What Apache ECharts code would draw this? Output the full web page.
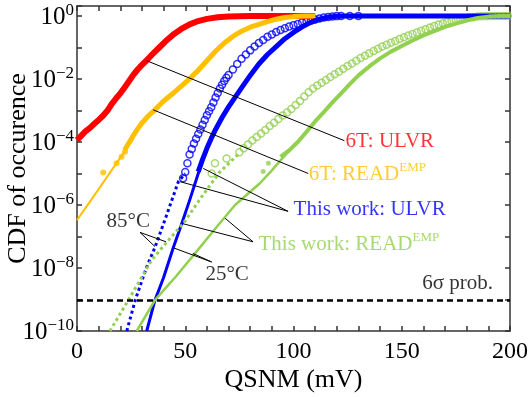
<!DOCTYPE html>
<html><head><meta charset="utf-8">
<script src="https://cdn.jsdelivr.net/npm/echarts@6/dist/echarts.min.js"></script>
<style>html,body{margin:0;padding:0;background:#fff}#c{width:530px;height:397px}</style>
</head><body><div id="c"></div>
<script>
// ---- data: [QSNM (mV), CDF] ----
const ulvr6T = [[0,1.15e-4],[2,1.6e-4],[4,2.2e-4],[6,2.8e-4],[8,3.8e-4],[10,5.0e-4],[12,6.8e-4],[14,9.8e-4],[16,1.6e-3],[18,2.4e-3],[20,3.5e-3],[22,5.4e-3],[24,8.5e-3],[26,1.35e-2],[28,2.0e-2],[30,2.8e-2],[32,3.8e-2],[35,6.3e-2],[38,0.10],[41,0.16],[45,0.275],[48,0.38],[52,0.54],[56,0.69],[60,0.81],[65,0.91],[70,0.955],[80,0.99],[90,1],[110,1]];
const readEmp6TFit = [[0,3.3e-7],[10,3.2e-6],[20,3.2e-5],[26,1.26e-4]];
const readEmp6TSparse = [[12.1,1.07e-5],[18.3,2.1e-5],[20.6,3.4e-5],[22.2,4.9e-5]];
const readEmp6T = [[22,5.6e-5],[24,9.5e-5],[26,1.6e-4],[28,2.6e-4],[30,4.0e-4],[33,6.8e-4],[36,1.05e-3],[40,2.0e-3],[45,3.8e-3],[50,7.6e-3],[53,1.17e-2],[56,1.9e-2],[60,3.8e-2],[64,7.6e-2],[68,0.138],[72,0.224],[76,0.33],[80,0.44],[84,0.54],[88,0.66],[92,0.79],[96,0.89],[100,0.955],[105,1],[110,1]];
const ulvrWork25 = [[56,1.15e-5],[58,2.8e-5],[60,6.3e-5],[62,1.3e-4],[64,2.5e-4],[67,6.0e-4],[70,1.3e-3],[73,2.6e-3],[76,5.2e-3],[80,1.3e-2],[84,3.0e-2],[88,6.0e-2],[92,0.107],[96,0.19],[100,0.30],[104,0.45],[108,0.63],[112,0.79],[116,0.91],[120,0.98],[124,1],[200,1]];
const ulvrWork85 = [[49,7.1e-6],[50,1.12e-5],[51,2.1e-5],[52,4.0e-5],[53,6.0e-5],[54,8.9e-5],[55,1.26e-4],[56,1.8e-4],[57,2.5e-4],[58,3.5e-4],[59,5.0e-4],[60,7.1e-4],[61,9.5e-4],[62,1.26e-3],[63,1.8e-3],[64,2.6e-3],[65,3.6e-3],[66,5.0e-3],[67,6.6e-3],[68,8.7e-3],[69,1.1e-2],[70,1.35e-2],[72,2.0e-2],[74,3.0e-2],[76,4.4e-2],[78,6.0e-2],[80,8.1e-2],[82,0.107],[84,0.138],[86,0.174],[88,0.22],[90,0.26],[92,0.31],[94,0.36],[96,0.41],[98,0.46],[100,0.51],[102,0.56],[104,0.62],[106,0.66],[108,0.72],[110,0.78],[112,0.83],[114,0.89],[116,0.93],[118,0.966],[120,0.99],[122,1],[126,1],[130,1]];
const ulvrWork85Fit = [[23,1e-10],[27,1e-9],[32,1e-8],[36,4.5e-8],[41,4.0e-7],[46.8,5.5e-6],[50,1.0e-5]];
const ulvrWork25Fit = [[32.2,1e-10],[36,9.5e-10],[40,5.0e-9],[44.5,4.5e-8],[48.4,2.6e-7],[52,1.4e-6],[56,1.0e-5],[58,2.5e-5]];
const readWork25Sparse = [[86,1.15e-5],[88.4,2.1e-5]];
const readWork25 = [[94,3.4e-5],[98,5.4e-5],[102,1.0e-4],[106,2.1e-4],[110,4.5e-4],[114,8.9e-4],[118,1.8e-3],[122,3.5e-3],[126,6.9e-3],[130,1.3e-2],[135,2.5e-2],[140,4.5e-2],[145,7.4e-2],[150,0.112],[155,0.166],[160,0.24],[165,0.33],[170,0.45],[175,0.575],[180,0.72],[185,0.87],[190,0.955],[195,1],[200,1]];
const readWork85 = [[62.2,1.0e-5],[63.7,2.1e-5],[69.1,3.0e-5],[75,4.7e-5],[77,6.3e-5],[79,8.3e-5],[81,1.12e-4],[83,1.45e-4],[85,1.86e-4],[87,2.4e-4],[89,3.2e-4],[91,4.1e-4],[93,5.4e-4],[95,6.9e-4],[97,8.7e-4],[99,1.12e-3],[101,1.5e-3],[103,2.0e-3],[105,2.8e-3],[107,3.8e-3],[109,5.0e-3],[111,6.2e-3],[113,7.6e-3],[115,9.3e-3],[117,1.15e-2],[119,1.41e-2],[121,1.7e-2],[123,2.1e-2],[125,2.6e-2],[127,3.1e-2],[129,3.8e-2],[131,4.6e-2],[133,5.5e-2],[135,6.6e-2],[137,7.8e-2],[139,9.1e-2],[141,0.107],[143,0.123],[145,0.141],[147,0.162],[149,0.186],[151,0.21],[153,0.24],[155,0.27],[157,0.30],[159,0.34],[161,0.38],[163,0.43],[165,0.48],[167,0.54],[169,0.59],[171,0.65],[173,0.69],[175,0.74],[177,0.79],[179,0.85],[181,0.89],[183,0.92],[185,0.955],[187,0.977],[189,0.99],[191,1],[193,1],[195,1],[197,1],[199,1]];
const readWork85Fit = [[15.2,1e-10],[23.7,9.5e-10],[34.5,1.8e-8],[43.7,1.0e-7],[49.1,2.6e-7],[58,2.0e-6],[66,1.12e-5],[75,4.4e-5]];
const readWork25Fit = [[27.6,1e-10],[36,9.5e-10],[42.2,2.9e-9],[45.3,5.0e-9],[55,3.2e-8],[64.5,2.0e-7],[73,1.0e-6],[84.5,4.9e-6],[90,1.26e-5],[94,2.6e-5],[98.4,5.6e-5]];
const sixSigmaProb = 9.87e-10;
const xLabelValues = [0,50,100,150,200];
const yLabelExponents = [0,-2,-4,-6,-8,-10];
// annotations
const noteLabels = ['6T: ULVR','6T: READ^EMP','This work: ULVR','This work: READ^EMP','85°C','25°C','6σ prob.'];
const noteColors = ['#FF0000','#FFC000','#0000FF','#92D050','#000000','#000000','#000000'];
const noteAnchors = [[123.8,1.15e-4],[106.8,1.05e-5],[99.8,7.9e-7],[83.6,6.2e-8],[13.4,3.3e-7],[59.1,6.9e-9],[159.2,3.7e-9]];
const leaderLines = [
  [[32.2,3.8e-2],[123.5,1.1e-4]],
  [[35.2,1.05e-3],[106.8,1.0e-5]],
  [[47.6,5.5e-6],[97.5,6.3e-7]],
  [[58.3,1.45e-5],[97.5,6.3e-7]],
  [[48.4,2.6e-7],[81.3,6.8e-8]],
  [[68.4,3.8e-7],[81.3,6.8e-8]],
  [[29.1,1.35e-7],[36,4.8e-8]],
  [[29.1,1.35e-7],[41.1,6.8e-8]],
  [[62.2,1.55e-8],[44.8,4.3e-8]],
  [[62.2,1.55e-8],[53.5,2.9e-8]]
];

const FONT = "'Liberation Serif','Times New Roman',serif";
const RED='#FF0000', GOLD='#FFC000', BLUE='#0000FF', GREEN='#92D050', AX='#333333';
const pts = arr => arr.map(p => [p[0], Math.log10(p[1])]);

function curve(data, color, width, dash) {
  return {type:'line', data:pts(data), showSymbol:false, smooth:false, clip:true, silent:true,
    lineStyle:{color, width, type:dash||'solid', cap:'butt', join:'round'}, itemStyle:{color}};
}
function rings(data, color, size) {
  return {type:'scatter', data:pts(data), symbol:'circle', symbolSize:size, silent:true,
    itemStyle:{color:'rgba(0,0,0,0)', borderColor:color, borderWidth:1.5}};
}
function dots(data, color, size) {
  return {type:'scatter', data:pts(data), symbol:'circle', symbolSize:size, silent:true, itemStyle:{color}};
}

const yLabel = v => {
  const e = Math.round(v);
  if (Math.abs(v-e) > 1e-6 || yLabelExponents.indexOf(e) < 0) return '';
  return '{b|10}{s|' + (e < 0 ? '\u2212' + (-e) : e) + '}';
};
const noteRich = {
  b:{fontSize:21, lineHeight:24, verticalAlign:'bottom', fontFamily:FONT},
  s:{fontSize:13, lineHeight:18, verticalAlign:'top', fontFamily:FONT}
};
const noteData = noteLabels.map((t,i) => {
  const parts = t.split('^');
  const txt = '{b|' + parts[0] + '}' + (parts[1] ? '{s|' + parts[1] + '}' : '');
  return {value:[noteAnchors[i][0], Math.log10(noteAnchors[i][1])],
    label:{show:true, position:'right', distance:0, formatter:txt, color:noteColors[i], fontFamily:FONT, fontSize:21, rich:noteRich}};
});

const axisCommon = {
  axisLine:{show:true, onZero:false, lineStyle:{color:AX, width:1.5}},
  axisTick:{show:true, inside:true, length:5, lineStyle:{color:AX, width:1.5}},
  splitLine:{show:false}
};

const chart = echarts.init(document.getElementById('c'), null, {renderer:'canvas'});
chart.setOption({
  animation:false,
  backgroundColor:'#fff',
  grid:{left:77, right:20, top:6, bottom:66, containLabel:false, outerBoundsMode:'none'},
  xAxis:[
    Object.assign({type:'value', position:'bottom', min:0, max:200, interval:10,
      name:'QSNM (mV)', nameLocation:'middle', nameGap:36, nameMoveOverlap:false,
      nameTextStyle:{fontFamily:FONT, fontSize:26, color:'#000'},
      axisLabel:{interval:0, margin:9, fontFamily:FONT, fontSize:24, color:'#000',
        formatter:v => xLabelValues.indexOf(v) >= 0 ? String(v) : ''}}, axisCommon),
    Object.assign({type:'value', position:'top', min:0, max:200, interval:10, axisLabel:{show:false}}, axisCommon)
  ],
  yAxis:[
    Object.assign({type:'value', position:'left', min:Math.log10(1e-10), max:0.317, interval:1,
      name:'CDF of occurence', nameLocation:'middle', nameGap:46, nameMoveOverlap:false,
      nameTextStyle:{fontFamily:FONT, fontSize:26, color:'#000'},
      axisLabel:{interval:0, margin:3, color:'#000', formatter:yLabel,
        rich:{b:{fontSize:25, lineHeight:28, verticalAlign:'bottom', fontFamily:FONT, color:'#000'},
              s:{fontSize:17, lineHeight:20, verticalAlign:'top', fontFamily:FONT, color:'#000'}}}}, axisCommon),
    Object.assign({type:'value', position:'right', min:Math.log10(1e-10), max:0.317, interval:1, axisLabel:{show:false}}, axisCommon)
  ],
  series:[
    curve(ulvr6T, RED, 6),
    curve(readEmp6TFit, GOLD, 2),
    curve(readEmp6T, GOLD, 5),
    dots(readEmp6TSparse, GOLD, 6),
    curve(ulvrWork25, BLUE, 5),
    rings(ulvrWork85, BLUE, 7),
    curve(ulvrWork85Fit, BLUE, 3, [3,3]),
    curve(ulvrWork25Fit, BLUE, 3),
    curve(readWork25Fit, GREEN, 2.5),
    curve(readWork25, GREEN, 4),
    dots(readWork25Sparse, GREEN, 5),
    rings(readWork85, GREEN, 7),
    curve(readWork85Fit, GREEN, 3, [3,3]),
    {type:'scatter', data:noteData, symbolSize:1, itemStyle:{color:'rgba(0,0,0,0)'}, silent:true, z:5,
      markLine:{silent:true, symbol:['none','none'], label:{show:false},
        lineStyle:{color:'#000', width:1, type:'solid'},
        data: leaderLines.map(l => [{coord:[l[0][0], Math.log10(l[0][1])]}, {coord:[l[1][0], Math.log10(l[1][1])]}])
          .concat([{yAxis:Math.log10(sixSigmaProb), lineStyle:{color:'#000', width:2.5, type:[6,4]}}])
      }}
  ]
});
</script></body></html>
